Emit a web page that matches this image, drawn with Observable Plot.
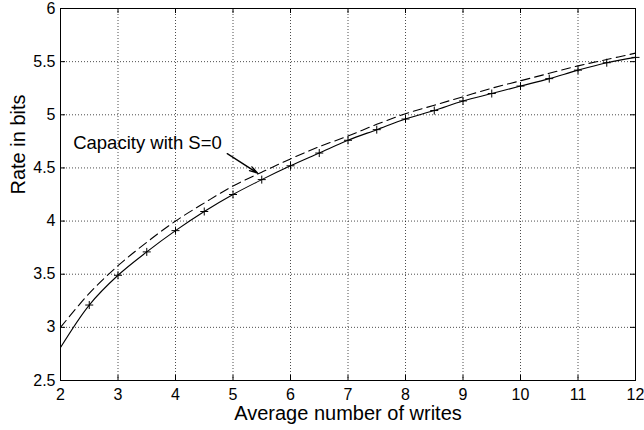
<!DOCTYPE html>
<html>
<head>
<meta charset="utf-8">
<script src="https://cdn.jsdelivr.net/npm/d3@7"></script>
<script src="https://cdn.jsdelivr.net/npm/@observablehq/plot@0.6"></script>
<style>
  html, body { margin: 0; padding: 0; background: #fff; }
  svg { display: block; }
</style>
</head>
<body>
<div id="chart"></div>
<script>
// Average number of writes
const writes = [2, 2.5, 3, 3.5, 4, 4.5, 5, 5.5, 6, 6.5, 7, 7.5, 8, 8.5, 9, 9.5, 10, 10.5, 11, 11.5, 12];
// Achievable rate (solid line with + markers)
const rateAchieved = [2.81, 3.21, 3.49, 3.71, 3.91, 4.09, 4.25, 4.39, 4.52, 4.64, 4.76, 4.86, 4.96, 5.04, 5.13, 5.20, 5.27, 5.34, 5.42, 5.49, 5.54];
// Capacity with S=0 (dashed line)
const rateCapacity = [3.00, 3.32, 3.58, 3.80, 4.00, 4.17, 4.33, 4.46, 4.585, 4.70, 4.80, 4.91, 5.01, 5.09, 5.17, 5.25, 5.32, 5.39, 5.46, 5.52, 5.58];
// markers present on the solid curve
const markerWrites = writes.slice(1);

const xTicks = [2, 3, 4, 5, 6, 7, 8, 9, 10, 11, 12];
const yTicks = [2.5, 3, 3.5, 4, 4.5, 5, 5.5, 6];

const annotationText = ["Capacity with S=0"];
const annotationTextX = [2.22];
const annotationTextY = [4.73];
const arrowFrom = [4.90, 4.635];
const arrowTo = [5.43, 4.45];

const solid = writes.map((w, i) => ({x: w, y: rateAchieved[i]}));
const dashed = writes.map((w, i) => ({x: w, y: rateCapacity[i]}));
const markers = markerWrites.map(w => ({x: w, y: rateAchieved[writes.indexOf(w)]}));

const W = 644, H = 430;
const mt = 8, mb = 50, ml = 60, mr = 9;
const innerH = H - mt - mb, innerW = W - ml - mr;
const tl = 5;

const chart = Plot.plot({
  width: W,
  height: H,
  marginTop: mt,
  marginBottom: mb,
  marginLeft: ml,
  marginRight: mr,
  style: {fontFamily: "'Liberation Sans', Arial, Helvetica, sans-serif", background: "#fff", color: "#000"},
  x: {domain: [2, 12]},
  y: {domain: [2.5, 6]},
  marks: [
    Plot.gridX(xTicks, {stroke: "#000", strokeOpacity: 0.7, strokeDasharray: "1,2"}),
    Plot.gridY(yTicks, {stroke: "#000", strokeOpacity: 0.7, strokeDasharray: "1,2"}),
    // inward ticks on all four sides
    Plot.tickX(xTicks, {x: d => d, insetTop: innerH - tl, stroke: "#000"}),
    Plot.tickX(xTicks, {x: d => d, insetBottom: innerH - tl, stroke: "#000"}),
    Plot.tickY(yTicks, {y: d => d, insetRight: innerW - tl, stroke: "#000"}),
    Plot.tickY(yTicks, {y: d => d, insetLeft: innerW - tl, stroke: "#000"}),
    Plot.axisX(xTicks, {tickSize: 0, tickPadding: 8, fontSize: 16, label: null}),
    Plot.axisY(yTicks, {tickSize: 0, tickPadding: 5, fontSize: 16, label: null, tickFormat: d => String(d)}),
    Plot.frame({stroke: "#000"}),
    Plot.line(dashed, {x: "x", y: "y", stroke: "#000", strokeWidth: 1.1, strokeDasharray: "9,5", curve: "catmull-rom"}),
    Plot.line(solid, {x: "x", y: "y", stroke: "#000", strokeWidth: 1.1, curve: "catmull-rom"}),
    Plot.dot(markers, {x: "x", y: "y", symbol: "plus", r: 2.7, stroke: "#000", strokeWidth: 1}),
    Plot.arrow([0], {x1: () => arrowFrom[0], y1: () => arrowFrom[1], x2: () => arrowTo[0], y2: () => arrowTo[1], stroke: "#000", strokeWidth: 1.3, headLength: 10, headAngle: 30}),
    Plot.text(annotationText, {x: annotationTextX, y: annotationTextY, text: d => d, textAnchor: "start", fontSize: 18.5, fill: "#000"}),
    Plot.text(["Average number of writes"], {frameAnchor: "bottom", lineAnchor: "middle", dy: 33, text: d => d, fontSize: 20, fill: "#000"}),
    Plot.text(["Rate in bits"], {frameAnchor: "left", lineAnchor: "middle", dx: -42, rotate: -90, text: d => d, fontSize: 20, fill: "#000"})
  ]
});
document.getElementById("chart").appendChild(chart);
</script>
</body>
</html>
